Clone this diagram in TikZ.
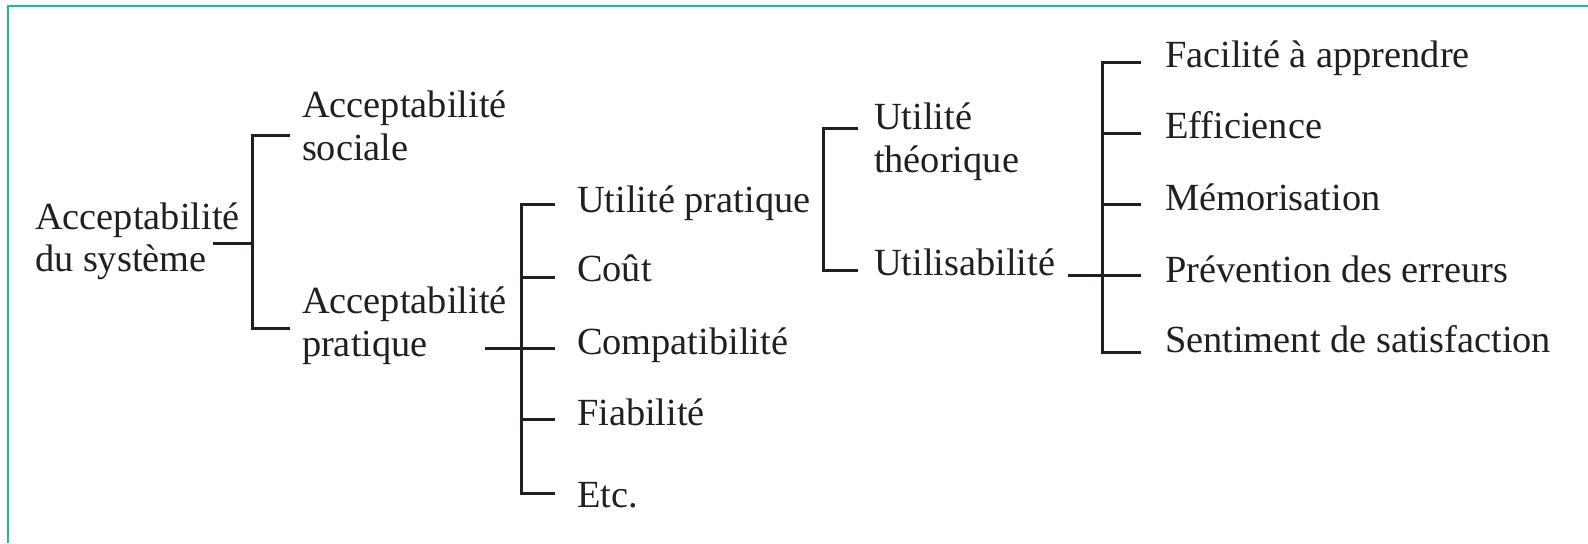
\documentclass[tikz,border=0pt]{standalone}
\usepackage{fontspec}
\setmainfont{Liberation Serif}
\definecolor{framecol}{RGB}{26,188,156}
\definecolor{ink}{RGB}{35,31,32}
\begin{document}
\begin{tikzpicture}[x=0.5pt,y=-0.5pt,
  lbl/.style={anchor=base west,inner sep=0pt,outer sep=0pt,align=left,
              text=ink,font=\fontsize{19.2}{21.5}\selectfont},
  link/.style={draw=ink,line width=1.5pt,line join=miter}]
\useasboundingbox (0,0) rectangle (1588,543);
% frame edges
\draw[framecol,line width=1.2pt] (8,543) -- (8,6) -- (1588,6);

% labels (two-line labels are placed by the baseline of their last line)
\node[lbl,font=\fontsize{19.2}{21}\selectfont] (sys) at (35,271) {Acceptabilité\\du système};
\node[lbl] (soc)  at (302,160)  {Acceptabilité\\sociale};
\node[lbl] (pra)  at (302,356)  {Acceptabilité\\pratique};
\node[lbl] (upr)  at (577,212)  {Utilité pratique};
\node[lbl] (cout) at (577,281)  {Coût};
\node[lbl] (comp) at (577,354)  {Compatibilité};
\node[lbl] (fiab) at (577,425)  {Fiabilité};
\node[lbl] (etc)  at (577,507)  {Etc.};
\node[lbl] (uth)  at (874,172)  {Utilité\\théorique};
\node[lbl] (usa)  at (874,275)  {Utilisabilité};
\node[lbl] (fac)  at (1165,67)  {Facilité à apprendre};
\node[lbl] (eff)  at (1165,138) {Efficience};
\node[lbl] (mem)  at (1165,210) {Mémorisation};
\node[lbl] (prev) at (1165,282) {Prévention des erreurs};
\node[lbl] (sent) at (1165,352) {Sentiment de satisfaction};

% bracket 1: système -> sociale / pratique
\coordinate (r1)  at (213,243);
\coordinate (b1j) at (252,243);
\coordinate (b1a) at (290,135);
\coordinate (b1b) at (290,328);
\draw[link] (b1a) -| (b1j) |- (b1b);
\draw[link] (r1) -- (b1j);

% bracket 2: acceptabilité pratique -> five criteria
\coordinate (r2)  at (485,348);
\coordinate (b2j) at (521,348);
\coordinate (b2a) at (555,204);
\coordinate (b2b) at (555,277);
\coordinate (b2c) at (555,348);
\coordinate (b2d) at (555,419);
\coordinate (b2e) at (555,493);
\draw[link] (b2a) -| (b2j) |- (b2e);
\draw[link] (b2b) -- (b2b -| b2j);
\draw[link] (r2) -- (b2c);
\draw[link] (b2d) -- (b2d -| b2j);

% bracket 3: utilité pratique -> théorique / utilisabilité
\coordinate (b3j) at (823,200);
\coordinate (b3a) at (858,128);
\coordinate (b3b) at (858,270);
\draw[link] (b3a) -| (b3j) |- (b3b);

% bracket 4: utilisabilité -> five attributes
\coordinate (r4)  at (1068,275);
\coordinate (b4j) at (1102,275);
\coordinate (b4a) at (1141,62);
\coordinate (b4b) at (1141,133);
\coordinate (b4c) at (1141,204);
\coordinate (b4d) at (1141,275);
\coordinate (b4e) at (1141,352);
\draw[link] (b4a) -| (b4j) |- (b4e);
\draw[link] (b4b) -- (b4b -| b4j);
\draw[link] (b4c) -- (b4c -| b4j);
\draw[link] (r4) -- (b4d);
\end{tikzpicture}
\end{document}
